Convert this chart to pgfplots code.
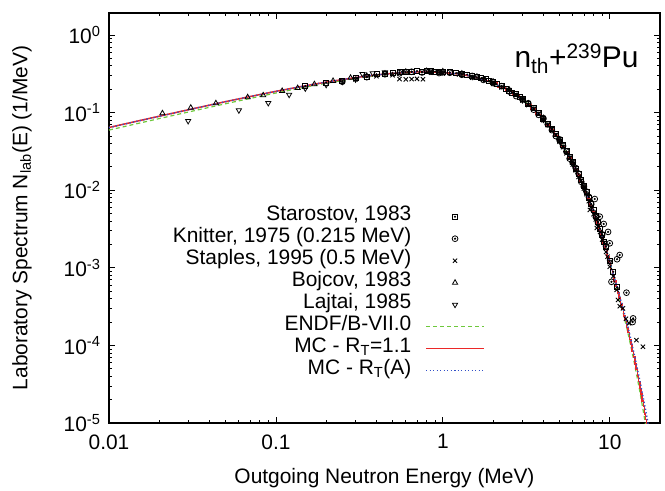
\documentclass[border=0pt]{standalone}
\usepackage{fontspec}
\setmainfont{Liberation Sans}
\usepackage{pgfplots}
\pgfplotsset{compat=1.18}
\usetikzlibrary{plotmarks}
\definecolor{cgreen}{RGB}{110,200,60}
\definecolor{cred}{RGB}{235,40,40}
\definecolor{cblue}{RGB}{50,80,200}
\pgfdeclareplotmark{sqdot}{%
  \pgfpathrectangle{\pgfqpoint{-\pgfplotmarksize}{-\pgfplotmarksize}}{\pgfqpoint{2\pgfplotmarksize}{2\pgfplotmarksize}}%
  \pgfusepathqstroke
  \pgfpathcircle{\pgfpointorigin}{0.22\pgfplotmarksize}%
  \pgfusepathqfillstroke}
\pgfdeclareplotmark{circdot}{%
  \pgfpathcircle{\pgfpointorigin}{\pgfplotmarksize}%
  \pgfusepathqstroke
  \pgfpathcircle{\pgfpointorigin}{0.22\pgfplotmarksize}%
  \pgfusepathqfillstroke}
\pgfplotsset{legend image code/.code={\draw[mark repeat=2,mark phase=2,#1] plot coordinates {(0bp,0bp) (29bp,0bp) (58bp,0bp)};}}
\begin{document}
\begin{tikzpicture}[font=\fontsize{21}{25}\selectfont]
\useasboundingbox (-109bp,-68bp) rectangle (556bp,423bp);
\begin{axis}[
  scale only axis, width=551bp, height=410bp,
  xmode=log, ymode=log,
  xmin=0.01, xmax=20, ymin=1e-5, ymax=1.92,
  xtick={0.01,0.1,1,10}, xticklabels={0.01,0.1,1,10},
  ytick={1e-5,1e-4,1e-3,1e-2,1e-1,1},
  yticklabels={10\textsuperscript{-5},10\textsuperscript{-4},10\textsuperscript{-3},10\textsuperscript{-2},10\textsuperscript{-1},10\textsuperscript{0}},
  axis line style={line width=1.2bp},
  major tick length=6bp, minor tick length=3.5bp,
  tick style={black, line width=0.8bp},
  xticklabel style={yshift=-8bp},
  yticklabel style={xshift=-5bp},
  every axis x label/.style={at={(axis description cs:0.5,-0.134)}, anchor=center},
  every axis y label/.style={at={(axis description cs:-0.158,0.5)}, rotate=90, anchor=center},
  xlabel={Outgoing Neutron Energy (MeV)},
  ylabel={Laboratory Spectrum N\textsubscript{lab}(E) (1/MeV)},
  legend plot pos=right, legend cell align=right,
  legend style={draw=none, fill=none, at={(0.6824,0.5305)}, anchor=north east,
    inner sep=0pt, row sep=0pt, column sep=14bp,
    nodes={inner sep=0pt, text height=15bp, text depth=7bp}},
]
% Starostov, 1983
\addplot[only marks, mark=sqdot, mark size=2.5bp, black, line width=0.8bp] coordinates {
(0.15,0.219) (0.2,0.244) (0.25,0.253) (0.3,0.284) (0.35,0.292) (0.4,0.312) (0.45,0.315)
(0.5,0.326) (0.55,0.330) (0.6,0.333) (0.65,0.338) (0.7,0.344) (0.75,0.336) (0.8,0.343)
(0.85,0.345) (0.9,0.339) (0.95,0.335) (1.0,0.338) (1.1,0.330) (1.2,0.323) (1.3,0.317)
(1.4,0.309) (1.5,0.296) (1.6,0.287) (1.7,0.277) (1.8,0.270) (1.9,0.255) (2.0,0.246)
(2.1,0.232) (2.25,0.221) (2.4,0.204) (2.5,0.191) (2.6,0.180) (2.75,0.175) (2.9,0.160)
(3.0,0.150) (3.25,0.131) (3.5,0.114) (3.75,0.0985) (4.0,0.0838) (4.25,0.0722) (4.5,0.0624)
(4.75,0.0525) (5.0,0.0448) (5.25,0.0378) (5.5,0.0317) (5.75,0.0270) (6.0,0.0232)
(6.25,0.0190) (6.5,0.0161) (6.75,0.0135) (7.0,0.01138) (7.25,0.00950) (7.5,0.00806)
(7.75,0.00660) (8.0,0.00555) (8.25,0.00460) (8.5,0.00393) (8.75,0.00318) (9.0,0.00264)
(9.25,0.00218) (9.5,0.00187) (10.0,0.00122) (10.5,0.00089) (11.06,0.00056)
};
\addlegendentry{Starostov, 1983}
% Knitter, 1975
\addplot[only marks, mark=circdot, mark size=2.9bp, black, line width=0.8bp] coordinates {
(0.25,0.250) (0.35,0.286) (0.45,0.312) (0.55,0.321) (0.65,0.336) (0.75,0.329) (0.85,0.336)
(0.95,0.323) (1.1,0.326) (1.3,0.307) (1.5,0.297) (1.75,0.264) (2.0,0.248) (2.25,0.219)
(2.5,0.187) (2.75,0.163) (3.0,0.148) (3.25,0.132) (3.5,0.109) (3.75,0.0935) (4.0,0.0847)
(4.25,0.0705) (4.5,0.0594) (4.75,0.0498) (5.0,0.0452) (5.25,0.0371) (5.5,0.0314)
(5.75,0.0255) (6.0,0.0228) (6.25,0.0193) (6.5,0.0164) (6.75,0.0128) (7.0,0.01116)
(7.25,0.0096) (7.5,0.0082) (7.75,0.0066) (8.13,0.0077) (8.25,0.0045) (8.5,0.0038)
(8.71,0.00456) (9.0,0.0027) (9.2,0.00367) (9.5,0.0019) (9.77,0.0029) (10.0,0.00207)
(10.24,0.00066) (11.06,0.00129) (11.47,0.00146) (12.59,0.000478) (13.7,0.000200)
(13.8,0.000223)
};
\addlegendentry{Knitter, 1975 (0.215 MeV)}
% Staples, 1995
\addplot[only marks, mark=x, mark size=3bp, black, line width=0.9bp] coordinates {
(0.3,0.268) (0.4,0.294) (0.5,0.303) (0.55,0.270) (0.6,0.268) (0.65,0.270) (0.7,0.272)
(0.76,0.269) (0.85,0.326) (1.0,0.319) (1.25,0.310) (1.5,0.282) (1.75,0.267) (2.0,0.234)
(2.25,0.211) (2.5,0.195) (2.75,0.170) (3.0,0.143) (3.25,0.125) (3.5,0.112) (3.75,0.097)
(4.0,0.0797) (4.25,0.0688) (4.5,0.0612) (4.75,0.0515) (5.0,0.0422) (5.25,0.0359)
(5.5,0.0299) (5.75,0.0262) (6.0,0.0214) (6.25,0.0180) (6.5,0.0148) (6.75,0.0133)
(7.0,0.0105) (7.25,0.0089) (7.5,0.00722) (7.6,0.00556) (7.75,0.0061) (8.0,0.00492)
(8.25,0.0042) (8.36,0.00326) (8.5,0.00342) (8.75,0.0029) (9.0,0.00231) (9.25,0.0021)
(9.5,0.0016) (9.69,0.00139) (10.0,0.00103) (10.5,0.00078) (11.0,0.00052) (11.2,0.000385)
(11.47,0.00032) (12.0,0.00030) (12.5,0.00022) (13.06,0.000193) (14.45,0.000117)
(15.8,0.000096)
};
\addlegendentry{Staples, 1995 (0.5 MeV)}
% Bojcov, 1983
\addplot[only marks, mark=triangle, mark size=3bp, black, line width=0.8bp] coordinates {
(0.0209,0.098) (0.0309,0.1156) (0.0437,0.1318) (0.0677,0.1574) (0.0839,0.167) (0.109,0.190)
(0.135,0.207) (0.17,0.232) (0.22,0.256) (0.28,0.281) (0.35,0.298) (0.45,0.318) (0.6,0.336)
(0.8,0.343) (1.0,0.340) (1.3,0.318) (1.6,0.290) (2.0,0.250) (2.5,0.197) (3.0,0.152)
(4.0,0.085) (5.0,0.045) (6.0,0.0228) (7.0,0.0113)
};
\addlegendentry{Bojcov, 1983}
% Lajtai, 1985
\addplot[only marks, mark=triangle, mark options={rotate=180}, mark size=3bp, black, line width=0.8bp] coordinates {
(0.0298,0.078) (0.060,0.107) (0.090,0.133) (0.120,0.170) (0.15,0.205) (0.2,0.228) (0.25,0.250)
(0.3,0.268) (0.33,0.315) (0.38,0.322) (0.45,0.330) (1.0,0.330) (1.5,0.290) (2.0,0.240)
(3.0,0.145) (4.0,0.081) (5.0,0.043) (6.0,0.0218) (7.0,0.0108) (8.0,0.0052) (9.0,0.0025)
(10.0,0.0012)
};
\addlegendentry{Lajtai, 1985}
% ENDF/B-VII.0
\addplot[cgreen, line width=1.2bp, dash pattern=on 4bp off 3bp] coordinates {
(0.01,0.0595) (0.015,0.0727) (0.02,0.0837) (0.03,0.1019) (0.05,0.1301) (0.07,0.1522)
(0.1,0.1788) (0.15,0.2128) (0.2,0.2388) (0.3,0.2759) (0.4,0.3003) (0.5,0.3163) (0.6,0.3262)
(0.7,0.3314) (0.8,0.3331) (0.9,0.3319) (1.0,0.3285) (1.2,0.3168) (1.5,0.2914) (2,0.2408)
(2.5,0.1909) (3,0.1470) (3.5,0.1108) (4,0.0822) (5,0.0435) (6,0.0221) (7,0.01094)
(8,0.00529) (9,0.00251) (10,0.00113) (11,0.00055) (12,0.00027) (13,0.00013) (14,0.000061)
(15,0.0000285) (16,0.000013) (17,0.0000059) (18,0.0000026)
};
\addlegendentry{ENDF/B-VII.0}
% MC - R_T = 1.1
\addplot[cred, line width=1.5bp] coordinates {
(0.01,0.0643) (0.015,0.0782) (0.02,0.0898) (0.03,0.1090) (0.05,0.1385) (0.07,0.1610)
(0.1,0.1880) (0.15,0.2215) (0.2,0.2470) (0.3,0.2830) (0.4,0.3060) (0.5,0.3200) (0.6,0.3290)
(0.7,0.3335) (0.8,0.3345) (0.9,0.3325) (1.0,0.3290) (1.25,0.3140) (1.5,0.2920) (1.75,0.2670)
(2.0,0.2430)
};
\addlegendentry{MC - R\textsubscript{T}=1.1}
\addplot[cred, line width=1.5bp, const plot mark mid, forget plot] coordinates {
(2.00,0.243) (2.25,0.213) (2.50,0.193) (2.75,0.166) (3.00,0.149) (3.25,0.126) (3.50,0.112)
(3.75,0.0945) (4.00,0.0830) (4.25,0.0694) (4.50,0.0604) (4.75,0.0505) (5.00,0.0439)
(5.25,0.0363) (5.50,0.0313) (5.75,0.0259) (6.00,0.0224) (6.25,0.0183) (6.50,0.0157)
(6.75,0.0129) (7.00,0.01105) (7.25,0.00902) (7.50,0.00770) (7.75,0.00627) (8.00,0.00535)
(8.25,0.00434) (8.50,0.00368) (8.75,0.00298) (9.00,0.00254) (9.25,0.00204) (9.50,0.00172)
(9.75,0.00138) (10.00,0.00116) (10.25,0.000955) (10.50,0.000820) (10.75,0.000672)
(11.00,0.000577) (11.25,0.000476) (11.50,0.000411) (11.75,0.000340) (12.00,0.000293)
(12.25,0.000241) (12.50,0.000208) (12.75,0.000170) (13.00,0.000147) (13.25,0.000120)
(13.50,0.000102) (13.75,0.0000830) (14.00,0.0000710) (14.25,0.0000578) (14.50,0.0000494)
(14.75,0.0000403) (15.00,0.0000344) (15.25,0.0000279) (15.50,0.0000236) (15.75,0.0000191)
(16.00,0.0000162) (16.25,0.0000131) (16.50,0.0000111) (16.75,0.0000090) (17.00,0.0000076)
(17.25,0.0000061) (17.50,0.0000052)
};
% MC - R_T(A)
\addplot[cblue, line width=1.4bp, dash pattern=on 1.3bp off 2.2bp] coordinates {
(0.01,0.0640) (0.015,0.0780) (0.02,0.0895) (0.03,0.1088) (0.05,0.1383) (0.07,0.1608)
(0.1,0.1878) (0.15,0.2212) (0.2,0.2468) (0.3,0.2828) (0.4,0.3058) (0.5,0.3198) (0.6,0.3288)
(0.7,0.3333) (0.8,0.3343) (0.9,0.3323) (1.0,0.3288) (1.25,0.3140) (1.5,0.2920) (2,0.2410)
(2.5,0.1910) (3,0.1472) (3.5,0.1110) (4,0.0823) (4.5,0.0600) (5,0.0436) (5.5,0.0312)
(6,0.0222) (6.5,0.0157) (7,0.0110) (7.5,0.00765) (8,0.00533) (8.5,0.00368) (9,0.00254)
(9.5,0.00173) (10,0.00118) (11,0.000590) (12,0.000305) (13,0.000156) (14,0.0000780)
(15,0.0000390) (16,0.0000195) (17,0.0000097) (18,0.0000048)
};
\addlegendentry{MC - R\textsubscript{T}(A)}
\node[anchor=base west, font=\fontsize{30}{36}\selectfont] at (rel axis cs:0.7296,0.868) {n\textsubscript{th}+\textsuperscript{239}Pu};
\end{axis}
\end{tikzpicture}
\end{document}
